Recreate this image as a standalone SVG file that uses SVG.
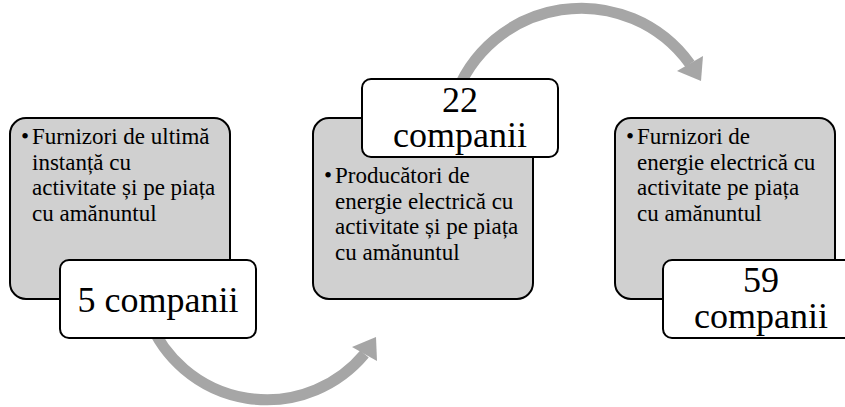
<svg xmlns="http://www.w3.org/2000/svg" width="845" height="407" viewBox="0 0 845 407">
<defs>
<rect id="bigbox" width="220" height="181" rx="16" fill="#d0d0d0" stroke="#000" stroke-width="2"/>
<rect id="smallbox" width="196" height="78" rx="9" fill="#fff" stroke="#000" stroke-width="2"/>
</defs>
<rect width="845" height="407" fill="#fff"/>
<g id="connectors" fill="#a6a6a6">
<path d="M 149 320 A 127 127 0 0 0 364.5 354" fill="none" stroke="#a6a6a6" stroke-width="11"/>
<polygon points="376,337 352,347 377,361"/>
<path d="M 454 100 A 134 134 0 0 1 690 64" fill="none" stroke="#a6a6a6" stroke-width="11"/>
<polygon points="701,81 677,71 703,56"/>
</g>
<g id="node1">
<use href="#bigbox" x="10" y="118"/>
<text font-family="Liberation Serif" style="font-family:'Liberation Serif','Times New Roman',serif !important" font-size="23" fill="#000"><tspan x="21" y="144">•</tspan><tspan x="32" y="144">Furnizori de ultimă</tspan><tspan x="32" y="169.5">instanță cu</tspan><tspan x="32" y="195">activitate și pe piața</tspan><tspan x="32" y="220.5">cu amănuntul</tspan></text>
</g>
<g id="node1-count">
<use href="#smallbox" x="60" y="260"/>
<text font-family="Liberation Serif" style="font-family:'Liberation Serif','Times New Roman',serif !important" font-size="36" fill="#000" text-anchor="middle" x="158" y="312">5 companii</text>
</g>
<g id="node2">
<use href="#bigbox" x="313" y="118"/>
<text font-family="Liberation Serif" style="font-family:'Liberation Serif','Times New Roman',serif !important" font-size="23" fill="#000"><tspan x="324" y="183">•</tspan><tspan x="335" y="183">Producători de</tspan><tspan x="335" y="208.5">energie electrică cu</tspan><tspan x="335" y="234">activitate și pe piața</tspan><tspan x="335" y="259.5">cu amănuntul</tspan></text>
</g>
<g id="node2-count">
<use href="#smallbox" x="362" y="79"/>
<text font-family="Liberation Serif" style="font-family:'Liberation Serif','Times New Roman',serif !important" font-size="36" fill="#000" text-anchor="middle"><tspan x="460" y="112">22</tspan><tspan x="460" y="147">companii</tspan></text>
</g>
<g id="node3">
<use href="#bigbox" x="615" y="118"/>
<text font-family="Liberation Serif" style="font-family:'Liberation Serif','Times New Roman',serif !important" font-size="23" fill="#000"><tspan x="626" y="144">•</tspan><tspan x="637" y="144">Furnizori de</tspan><tspan x="637" y="169.5">energie electrică cu</tspan><tspan x="637" y="195">activitate pe piața</tspan><tspan x="637" y="220.5">cu amănuntul</tspan></text>
</g>
<g id="node3-count">
<use href="#smallbox" x="663" y="260"/>
<text font-family="Liberation Serif" style="font-family:'Liberation Serif','Times New Roman',serif !important" font-size="36" fill="#000" text-anchor="middle"><tspan x="761" y="292">59</tspan><tspan x="761" y="328">companii</tspan></text>
</g>
</svg>
